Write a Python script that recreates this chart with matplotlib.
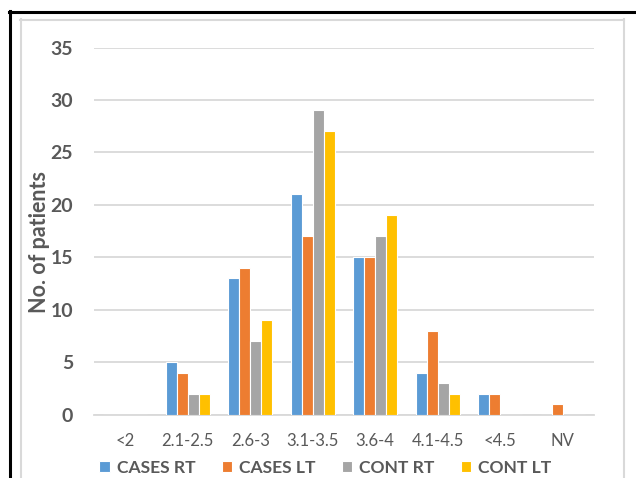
import numpy as np
import matplotlib.pyplot as plt
from matplotlib.lines import Line2D

categories = ["<2", "2.1-2.5", "2.6-3", "3.1-3.5", "3.6-4", "4.1-4.5", "<4.5", "NV"]
series_names = ["CASES RT", "CASES LT", "CONT RT", "CONT LT"]
cases_rt = [0, 5, 13, 21, 15, 4, 2, 0]
cases_lt = [0, 4, 14, 17, 15, 8, 2, 1]
cont_rt = [0, 2, 7, 29, 17, 3, 0, 0]
cont_lt = [0, 2, 9, 27, 19, 2, 0, 0]
colors = ["#5B9BD5", "#ED7D31", "#A5A5A5", "#FFC000"]

plt.rcParams["font.family"] = ["Lato", "DejaVu Sans"]
text_col = "#595959"

fig = plt.figure(figsize=(6.36, 4.78), dpi=100)
ax = fig.add_axes([0.1478, 0.1328, 0.786, 0.7678])

x = np.arange(len(categories))
width = 0.176
for i, (vals, name, col) in enumerate(zip([cases_rt, cases_lt, cont_rt, cont_lt], series_names, colors)):
    ax.bar(x + (i - 1.5) * width, vals, width, color=col, label=name,
           edgecolor="white", linewidth=0.8, zorder=3)

ax.set_xlim(-0.5, len(categories) - 0.5)
ax.set_ylim(0, 35)
ax.set_yticks(range(0, 36, 5))
ax.grid(axis="y", color="#D9D9D9", linewidth=1.3, zorder=0)
for s in ["top", "right", "left"]:
    ax.spines[s].set_visible(False)
ax.spines["bottom"].set_color("#D9D9D9")
ax.spines["bottom"].set_linewidth(1.3)
ax.tick_params(length=0)
ax.tick_params(axis="y", pad=15, labelsize=14, labelcolor=text_col)
ax.tick_params(axis="x", pad=13, labelsize=12, labelcolor=text_col)
for t in ax.get_yticklabels():
    t.set_fontweight("bold")
ax.set_xticks(x)
ax.set_xticklabels(categories)
ax.set_ylabel("No. of patients", fontsize=15.5, fontweight="bold", color=text_col)
ax.yaxis.set_label_coords(-0.088, 0.47)

leg = ax.legend(loc="center", bbox_to_anchor=(0.463, -0.146), ncol=4, frameon=False,
                handlelength=0.6, handleheight=0.6, handletextpad=0.4, columnspacing=1.5,
                prop={"weight": "bold", "size": 12.6})
for t in leg.get_texts():
    t.set_color(text_col)

# outer frames
W, H = 636, 478
def vline(xp, y0, y1, **kw):
    fig.add_artist(Line2D([xp / W, xp / W], [1 - y0 / H, 1 - y1 / H], **kw))
def hline(yp, x0, x1, **kw):
    fig.add_artist(Line2D([x0 / W, x1 / W], [1 - yp / H, 1 - yp / H], **kw))

black = dict(color="black", linewidth=2.2)
gray = dict(color="#D9D9D9", linewidth=1.5)
hline(12, 9, 636, **black)
vline(10, 11, 478, **black)
hline(19.5, 20, 624, **gray)
vline(20.5, 19, 478, **gray)
vline(624, 19, 478, **gray)

fig.savefig("out.png", dpi=100)
